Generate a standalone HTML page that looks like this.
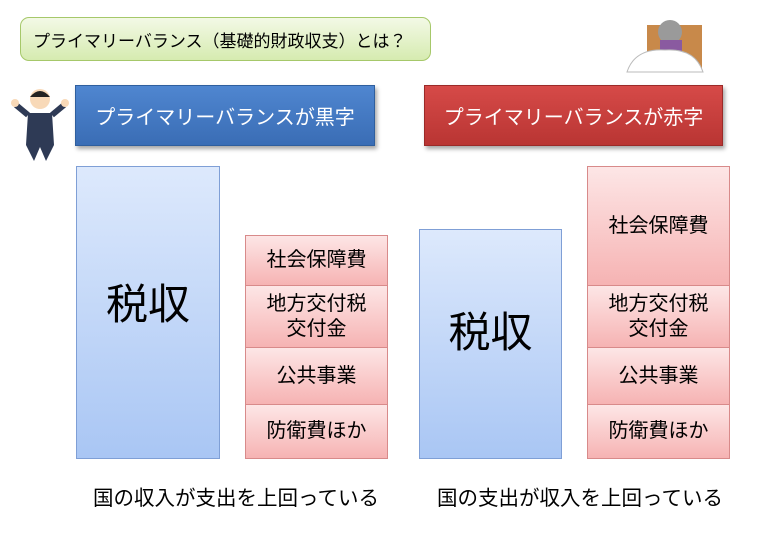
<!DOCTYPE html><html><head><meta charset="utf-8"><style>
body{margin:0;width:760px;height:536px;background:#fff;position:relative;overflow:hidden;font-family:"Liberation Sans","Noto Sans CJK JP",sans-serif}
.a{position:absolute;box-sizing:border-box;display:flex;align-items:center;justify-content:center;text-align:center}
.t{left:20px;top:17px;width:411px;height:44px;border:1px solid #a6c86a;border-radius:9px;background:linear-gradient(#f3f9e6,#d6ebb0);font-size:17px;justify-content:flex-start;padding-left:12px}
.h{top:85px;height:61px;color:#fff;font-size:20px;box-shadow:2px 3px 4px rgba(0,0,0,.35)}
.b{left:75px;width:300px;background:linear-gradient(#4f86d0,#3a6db5);border:1px solid #2f5f9e}
.r{left:424px;width:299px;background:linear-gradient(#d64a48,#b93533);border:1px solid #9b2a28}
.x{border:1px solid #7f9fd6;background:linear-gradient(#dde9fc,#a9c6f4);font-size:42px;padding-bottom:22px}
.p{border:1px solid #d88a8a;background:linear-gradient(#fde6e6,#f6b3b3);font-size:20px;line-height:25px}
.c{font-size:20.5px;top:481px}
</style></head><body>
<div class="a t">プライマリーバランス（基礎的財政収支）とは？</div>
<div class="a h b">プライマリーバランスが黒字</div>
<div class="a h r">プライマリーバランスが赤字</div>
<div class="a x" style="left:76px;top:166px;width:144px;height:293px">税収</div>
<div class="a p" style="left:245px;top:235px;width:143px;height:51px">社会保障費</div>
<div class="a p" style="left:245px;top:285px;width:143px;height:63px">地方交付税<br>交付金</div>
<div class="a p" style="left:245px;top:347px;width:143px;height:58px">公共事業</div>
<div class="a p" style="left:245px;top:404px;width:143px;height:55px">防衛費ほか</div>
<div class="a x" style="left:419px;top:229px;width:143px;height:230px;padding-bottom:30px">税収</div>
<div class="a p" style="left:587px;top:166px;width:143px;height:120px">社会保障費</div>
<div class="a p" style="left:587px;top:285px;width:143px;height:63px">地方交付税<br>交付金</div>
<div class="a p" style="left:587px;top:347px;width:143px;height:58px">公共事業</div>
<div class="a p" style="left:587px;top:404px;width:143px;height:55px">防衛費ほか</div>
<div class="a c" style="left:93px">国の収入が支出を上回っている</div>
<div class="a c" style="left:437px">国の支出が収入を上回っている</div>
<svg style="position:absolute;left:10px;top:85px" width="60" height="80"><circle cx="30" cy="14" r="10" fill="#f8d9b8"/><path d="M20 12 Q30 0 40 12 Z" fill="#222"/><path d="M18 28 L42 28 L44 60 L36 76 L30 62 L24 76 L16 60 Z" fill="#2e3a55"/><path d="M18 30 L6 20 M42 30 L54 20" stroke="#2e3a55" stroke-width="6"/><circle cx="5" cy="18" r="4" fill="#f8d9b8"/><circle cx="55" cy="18" r="4" fill="#f8d9b8"/></svg>
<svg style="position:absolute;left:625px;top:10px" width="80" height="65"><rect x="22" y="15" width="55" height="45" fill="#c8894a"/><circle cx="45" cy="22" r="12" fill="#9a9a9a"/><rect x="35" y="30" width="22" height="20" fill="#8a5aa0"/><path d="M2 62 Q10 38 40 40 Q70 38 78 62 Z" fill="#fff" stroke="#bbb"/></svg>
</body></html>
